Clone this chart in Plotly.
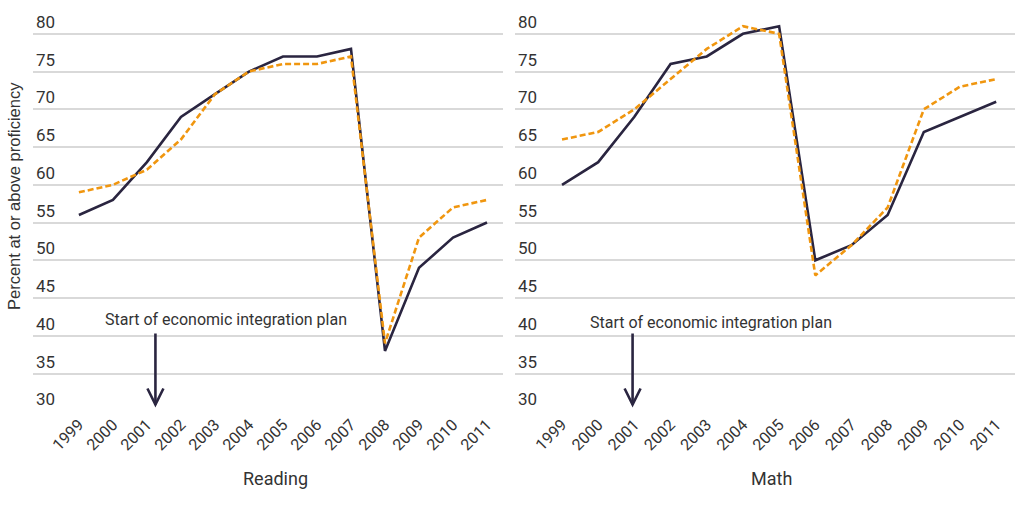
import plotly.graph_objects as go

years = list(range(1999, 2012))
year_labels = [str(y) for y in years]

reading_solid = [56, 58, 63, 69, 72, 75, 77, 77, 78, 38, 49, 53, 55]
reading_dash = [59, 60, 62, 66, 72, 75, 76, 76, 77, 39, 53, 57, 58]
math_solid = [60, 63, 69, 76, 77, 80, 81, 50, 52, 56, 67, 69, 71]
math_dash = [66, 67, 70, 74, 78, 81, 80, 48, 52, 57, 70, 73, 74]

panel_titles = ["Reading", "Math"]
y_ticks = [30, 35, 40, 45, 50, 55, 60, 65, 70, 75, 80]
annotation_text = "Start of economic integration plan"
plan_year = [2001.25, 2000.95]

DARK = "#2a2540"
ORANGE = "#f0960f"
GRID = "#d9d9d9"
TXT = "#333333"

W, H = 1024, 512
PPU = 7.55  # pixels per y unit
Y_BOTTOM_PX = 411.3
Y_MIN, Y_MAX = 30, 83

fig = go.Figure()

def px(v):
    return v / W

def py(v):
    return 1 - v / H

series = [(reading_solid, reading_dash), (math_solid, math_dash)]
for i, (s, d) in enumerate(series):
    xa = "x" if i == 0 else "x2"
    ya = "y" if i == 0 else "y2"
    fig.add_trace(go.Scatter(x=years, y=s, mode="lines", xaxis=xa, yaxis=ya,
                             line=dict(color=DARK, width=2.6), showlegend=False,
                             hoverinfo="skip"))
    fig.add_trace(go.Scatter(x=years, y=d, mode="lines", xaxis=xa, yaxis=ya,
                             line=dict(color=ORANGE, width=2.6, dash="6px,3px"),
                             showlegend=False, hoverinfo="skip"))

ydom = [py(Y_BOTTOM_PX), py(Y_BOTTOM_PX - (Y_MAX - Y_MIN) * PPU)]
xdoms = [[px(33), px(503)], [px(515), px(1015)]]
xranges = [[1997.65, 2011.47], [1997.70, 2011.52]]

common_x = dict(tickmode="array", tickvals=years, ticktext=year_labels,
                tickangle=-45, showgrid=False, zeroline=False, showline=False,
                ticks="", tickfont=dict(family="Roboto", size=16, color=TXT))
common_y = dict(range=[Y_MIN, Y_MAX], tickvals=y_ticks, showgrid=True, gridcolor=GRID,
                gridwidth=1.5, zeroline=False, showline=False, ticks="",
                ticklabelposition="inside top",
                tickfont=dict(family="Roboto", size=17, color=TXT))

fig.update_layout(
    width=W, height=H,
    margin=dict(l=0, r=0, t=0, b=0),
    paper_bgcolor="white", plot_bgcolor="white",
    showlegend=False,
    xaxis=dict(domain=xdoms[0], range=xranges[0], anchor="y", **common_x),
    yaxis=dict(domain=ydom, anchor="x", **common_y),
    xaxis2=dict(domain=xdoms[1], range=xranges[1], anchor="y2", **common_x),
    yaxis2=dict(domain=ydom, anchor="x2", **common_y),
)

annotations = []
for xc, t in zip([275, 771], panel_titles):
    annotations.append(dict(text=t, x=px(xc), y=py(478), xref="paper", yref="paper",
                            showarrow=False, xanchor="center", yanchor="middle",
                            font=dict(family="Roboto", size=18, color=TXT)))
annotations.append(dict(text="Percent at or above proficiency", x=px(14), y=py(196),
                        xref="paper", yref="paper", showarrow=False, textangle=-90,
                        xanchor="center", yanchor="middle",
                        font=dict(family="Liberation Sans", size=16.5, color=TXT)))
for i, (xc, yc) in enumerate([(2003.33, 42.2), (2003.11, 41.8)]):
    xr = "x" if i == 0 else "x2"
    yr = "y" if i == 0 else "y2"
    annotations.append(dict(text=annotation_text, x=xc, y=yc, xref=xr, yref=yr,
                            showarrow=False, xanchor="center", yanchor="middle",
                            font=dict(family="Roboto", size=16, color=TXT)))
fig.update_layout(annotations=annotations)

shapes = []
for i, xa in enumerate(plan_year):
    xr = "x" if i == 0 else "x2"
    yr = "y" if i == 0 else "y2"
    step = 34.0 if i == 0 else 36.2
    hw = 8 / step
    hh = 16 / PPU
    top, tip = 40.3, 30.9
    shapes.append(dict(type="line", x0=xa, x1=xa, y0=top, y1=tip, xref=xr, yref=yr,
                       line=dict(color=DARK, width=2.6)))
    shapes.append(dict(type="path",
                       path=f"M {xa-hw},{tip+hh} L {xa},{tip} L {xa+hw},{tip+hh}",
                       xref=xr, yref=yr, line=dict(color=DARK, width=2.6)))
fig.update_layout(shapes=shapes)

fig.write_html("out.html", config={"displayModeBar": False},
               post_script="document.body.style.margin='0';")
